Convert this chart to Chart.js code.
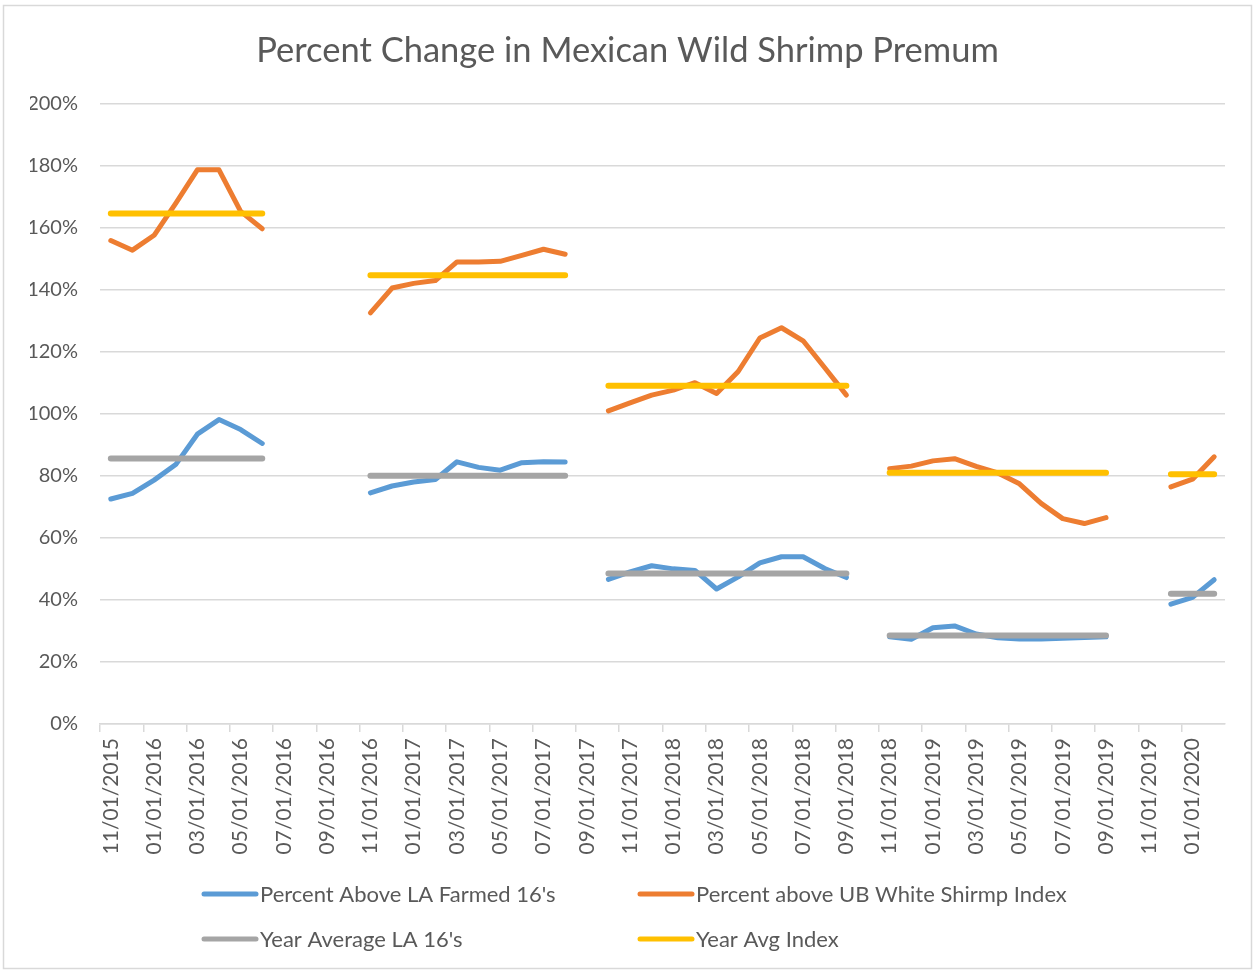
<!DOCTYPE html>
<html>
<head>
<meta charset="utf-8">
<script src="https://cdn.jsdelivr.net/npm/chart.js@4"></script>
<style>
  body { margin: 0; background: #fff; }
  canvas { display: block; }
</style>
</head>
<body>
<canvas id="shrimpChart" width="1255" height="972"></canvas>
<script>
// months 11/2015 .. 02/2020
const months = [
  "11/01/2015", "12/01/2015",
  "01/01/2016", "02/01/2016", "03/01/2016", "04/01/2016", "05/01/2016", "06/01/2016",
  "07/01/2016", "08/01/2016", "09/01/2016", "10/01/2016", "11/01/2016", "12/01/2016",
  "01/01/2017", "02/01/2017", "03/01/2017", "04/01/2017", "05/01/2017", "06/01/2017",
  "07/01/2017", "08/01/2017", "09/01/2017", "10/01/2017", "11/01/2017", "12/01/2017",
  "01/01/2018", "02/01/2018", "03/01/2018", "04/01/2018", "05/01/2018", "06/01/2018",
  "07/01/2018", "08/01/2018", "09/01/2018", "10/01/2018", "11/01/2018", "12/01/2018",
  "01/01/2019", "02/01/2019", "03/01/2019", "04/01/2019", "05/01/2019", "06/01/2019",
  "07/01/2019", "08/01/2019", "09/01/2019", "10/01/2019", "11/01/2019", "12/01/2019",
  "01/01/2020", "02/01/2020"
];

const aboveLA = [
  72.5, 74.3, 78.6, 83.6, 93.4, 98.1, 94.9, 90.4,
  null, null, null, null,
  74.5, 76.7, 78.0, 78.8, 84.5, 82.7, 81.8, 84.2, 84.5, 84.4,
  null,
  46.6, 49.0, 51.0, 50.0, 49.5, 43.5, 47.4, 51.9, 53.9, 53.9, 50.1, 47.2,
  null,
  28.1, 27.3, 31.0, 31.6, 29.0, 27.8, 27.4, 27.4, 27.6, 27.9, 28.1,
  null, null,
  38.6, 40.8, 46.5
];

const aboveIndex = [
  155.8, 152.7, 157.5, 167.8, 178.6, 178.6, 165.2, 159.6,
  null, null, null, null,
  132.5, 140.5, 142.0, 142.9, 148.9, 148.9, 149.1, 151.0, 153.0, 151.4,
  null,
  100.9, 103.5, 106.0, 107.6, 110.0, 106.5, 113.6, 124.4, 127.7, 123.5, 114.8, 106.0,
  null,
  82.3, 83.1, 84.8, 85.5, 83.0, 80.9, 77.4, 71.1, 66.2, 64.6, 66.5,
  null, null,
  76.4, 78.9, 86.1
];

const yearAvgLA = [
  85.6, 85.6, 85.6, 85.6, 85.6, 85.6, 85.6, 85.6,
  null, null, null, null,
  80.0, 80.0, 80.0, 80.0, 80.0, 80.0, 80.0, 80.0, 80.0, 80.0,
  null,
  48.5, 48.5, 48.5, 48.5, 48.5, 48.5, 48.5, 48.5, 48.5, 48.5, 48.5, 48.5,
  null,
  28.5, 28.5, 28.5, 28.5, 28.5, 28.5, 28.5, 28.5, 28.5, 28.5, 28.5,
  null, null,
  42.0, 42.0, 42.0
];

const yearAvgIndex = [
  164.5, 164.5, 164.5, 164.5, 164.5, 164.5, 164.5, 164.5,
  null, null, null, null,
  144.6, 144.6, 144.6, 144.6, 144.6, 144.6, 144.6, 144.6, 144.6, 144.6,
  null,
  109.0, 109.0, 109.0, 109.0, 109.0, 109.0, 109.0, 109.0, 109.0, 109.0, 109.0, 109.0,
  null,
  81.0, 81.0, 81.0, 81.0, 81.0, 81.0, 81.0, 81.0, 81.0, 81.0, 81.0,
  null, null,
  80.5, 80.5, 80.5
];

const seriesNames = [
  "Percent Above LA Farmed 16's",
  "Percent above UB White Shirmp Index",
  "Year Average LA 16's",
  "Year Avg Index"
];

const FONT = "Lato, 'Open Sans', sans-serif";
const TEXT = "#595959";
const GRID = "#d9d9d9";

function lineSet(label, data, color, width, order) {
  return {
    label: label,
    data: data,
    borderColor: color,
    backgroundColor: color,
    borderWidth: width,
    borderCapStyle: "round",
    borderJoinStyle: "round",
    pointRadius: 0,
    pointHoverRadius: 0,
    tension: 0,
    spanGaps: false,
    order: order
  };
}

// frame + 2x2 legend, Excel style
const extras = {
  id: "extras",
  beforeDraw(chart) {
    const ctx = chart.ctx;
    ctx.save();
    ctx.fillStyle = "#fff";
    ctx.fillRect(0, 0, chart.width, chart.height);
    ctx.strokeStyle = GRID;
    ctx.lineWidth = 1.5;
    ctx.strokeRect(3.5, 5.5, 1248, 963);
    ctx.restore();
  },
  afterDraw(chart) {
    const ctx = chart.ctx;
    const spots = [[202, 894], [638, 894], [202, 939], [638, 939]];
    ctx.save();
    ctx.font = "22px " + FONT;
    ctx.textBaseline = "middle";
    ctx.fillStyle = TEXT;
    chart.data.datasets.forEach((ds, i) => {
      const [x, y] = spots[i];
      ctx.strokeStyle = ds.borderColor;
      ctx.lineWidth = 5;
      ctx.lineCap = "round";
      ctx.beginPath();
      ctx.moveTo(x + 2, y);
      ctx.lineTo(x + 54, y);
      ctx.stroke();
      ctx.fillText(ds.label, x + 58, y + 1);
    });
    ctx.restore();
  }
};

new Chart(document.getElementById("shrimpChart"), {
  type: "line",
  data: {
    labels: months,
    datasets: [
      lineSet(seriesNames[0], aboveLA, "#5B9BD5", 5, 4),
      lineSet(seriesNames[1], aboveIndex, "#ED7D31", 5, 3),
      lineSet(seriesNames[2], yearAvgLA, "#A5A5A5", 6, 2),
      lineSet(seriesNames[3], yearAvgIndex, "#FFC000", 6, 1)
    ]
  },
  options: {
    responsive: false,
    animation: false,
    layout: { padding: { left: 30, right: 30, top: 0, bottom: 108 } },
    plugins: {
      legend: { display: false },
      tooltip: { enabled: false },
      title: {
        display: true,
        text: "Percent Change in Mexican Wild Shrimp Premum",
        color: TEXT,
        font: { family: FONT, size: 34.5, weight: "normal", lineHeight: 1.2 },
        padding: { top: 30, bottom: 32 }
      }
    },
    scales: {
      x: {
        offset: true,
        afterFit: (s) => { s.height = 140; },
        grid: {
          offset: true,
          drawOnChartArea: false,
          drawTicks: true,
          tickLength: 8,
          lineWidth: 1.5,
          tickColor: (c) => (c.index % 2 === 0 ? GRID : "rgba(0,0,0,0)"),
          color: (c) => (c.index % 2 === 0 ? GRID : "rgba(0,0,0,0)")
        },
        border: { display: true, color: GRID, width: 1.5 },
        ticks: {
          autoSkip: false,
          minRotation: 90,
          maxRotation: 90,
          padding: 6,
          color: TEXT,
          font: { family: FONT, size: 21 },
          callback: function (v, i) { return i % 2 === 0 ? months[i] : ""; }
        }
      },
      y: {
        min: 0,
        max: 200,
        afterFit: (s) => { s.width = 70; },
        grid: { color: GRID, lineWidth: 1.5, drawTicks: false },
        border: { display: false },
        ticks: {
          stepSize: 20,
          padding: 22,
          color: TEXT,
          font: { family: FONT, size: 20 },
          callback: (v) => v + "%"
        }
      }
    }
  },
  plugins: [extras]
});
</script>
</body>
</html>
